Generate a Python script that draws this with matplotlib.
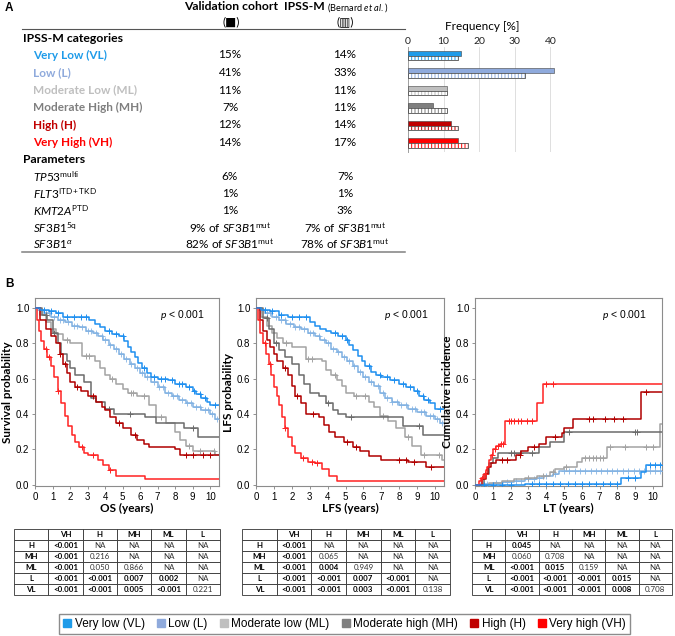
import numpy as np
import matplotlib.pyplot as plt
from matplotlib.lines import Line2D

plt.rcParams['font.family'] = ['Lato', 'DejaVu Sans']
plt.rcParams['mathtext.fontset'] = 'custom'
plt.rcParams['mathtext.rm'] = 'Lato'
plt.rcParams['mathtext.it'] = 'Lato:italic'
plt.rcParams['mathtext.bf'] = 'Lato:bold'
plt.rcParams['hatch.linewidth'] = 0.7

W, H = 675, 636

def fx(px):
    return px / W

def fy(py):
    return 1 - py / H


# ---------------- data: panel A
cat_labels = ['Very Low (VL)', 'Low (L)', 'Moderate Low (ML)', 'Moderate High (MH)', 'High (H)', 'Very High (VH)']
cat_colors = ['#1E9BE9', '#8FAADC', '#BFBFBF', '#7F7F7F', '#C00000', '#FF0000']
valid_pct = [15, 41, 11, 7, 12, 14]
ipssm_pct = [14, 33, 11, 11, 14, 17]

param_labels = [r'$\mathit{TP53}^{\mathrm{multi}}$', r'$\mathit{FLT3}^{\mathrm{ITD+TKD}}$',
                r'$\mathit{KMT2A}^{\mathrm{PTD}}$', r'$\mathit{SF3B1}^{\mathrm{5q}}$',
                r'$\mathit{SF3B1}^{\alpha}$']
param_valid = ['6%', '1%', '1%', r'9% of $\mathit{SF3B1}^{\mathrm{mut}}$', r'82% of $\mathit{SF3B1}^{\mathrm{mut}}$']
param_ipssm = ['7%', '1%', '3%', r'7% of $\mathit{SF3B1}^{\mathrm{mut}}$', r'78% of $\mathit{SF3B1}^{\mathrm{mut}}$']

# ---------------- data: panel B (step curves)
groups = ['VL', 'L', 'ML', 'MH', 'H', 'VH']
line_colors = {'VL': '#1E8FF0', 'L': '#7FB0E2', 'ML': '#A3A3A3', 'MH': '#6B6B6B', 'H': '#B00000', 'VH': '#FF2222'}

os_steps = {
    'VL': ([0, 0.3, 0.8, 1.2, 1.6, 3.1, 3.4, 3.7, 4.0, 4.4, 4.8, 5.1, 5.3, 5.5, 5.7, 5.9, 6.1, 6.4, 6.6, 7.0, 7.6, 8.0, 8.6, 9.0, 9.2, 9.5, 9.8, 10.0],
           [1.0, 0.99, 0.98, 0.97, 0.95, 0.93, 0.91, 0.89, 0.87, 0.85, 0.84, 0.81, 0.78, 0.75, 0.72, 0.69, 0.66, 0.63, 0.61, 0.60, 0.59, 0.57, 0.55, 0.53, 0.51, 0.49, 0.47, 0.45]),
    'L': ([0, 0.2, 0.5, 0.9, 1.3, 1.7, 2.1, 2.5, 2.9, 3.3, 3.6, 3.9, 4.2, 4.5, 4.8, 5.1, 5.4, 5.7, 6.0, 6.3, 6.6, 7.0, 7.4, 7.8, 8.2, 8.6, 9.0, 9.5, 10.0, 10.3],
          [1.0, 0.99, 0.97, 0.95, 0.93, 0.92, 0.90, 0.89, 0.87, 0.86, 0.84, 0.82, 0.79, 0.77, 0.74, 0.71, 0.68, 0.66, 0.63, 0.61, 0.58, 0.55, 0.52, 0.50, 0.48, 0.46, 0.44, 0.42, 0.40, 0.37]),
    'ML': ([0, 0.3, 0.6, 0.9, 1.2, 1.6, 2.0, 2.7, 3.4, 3.7, 4.0, 4.3, 4.6, 5.0, 5.3, 5.8, 6.5, 6.9, 7.5, 8.0, 8.3, 8.6, 9.0, 10.3],
           [1.0, 0.96, 0.92, 0.88, 0.85, 0.82, 0.80, 0.73, 0.70, 0.66, 0.62, 0.60, 0.57, 0.54, 0.52, 0.50, 0.45, 0.38, 0.35, 0.30, 0.25, 0.22, 0.19, 0.17]),
    'MH': ([0, 0.4, 0.7, 1.0, 1.3, 1.5, 1.8, 2.0, 2.3, 2.8, 3.2, 3.5, 4.0, 4.5, 6.3, 6.9, 8.5, 9.3],
           [1.0, 0.96, 0.93, 0.86, 0.80, 0.74, 0.70, 0.66, 0.62, 0.58, 0.49, 0.47, 0.43, 0.40, 0.38, 0.35, 0.32, 0.27]),
    'H': ([0, 0.3, 0.6, 0.9, 1.2, 1.4, 1.6, 1.8, 2.0, 2.3, 2.6, 3.0, 3.5, 3.8, 4.0, 4.3, 4.6, 5.0, 5.5, 5.8, 6.2, 6.5, 8.0, 8.3],
          [1.0, 0.93, 0.88, 0.84, 0.80, 0.74, 0.68, 0.63, 0.58, 0.55, 0.53, 0.50, 0.47, 0.44, 0.42, 0.38, 0.35, 0.32, 0.28, 0.25, 0.23, 0.21, 0.20, 0.17]),
    'VH': ([0, 0.1, 0.2, 0.35, 0.5, 0.7, 0.9, 1.1, 1.3, 1.5, 1.7, 1.9, 2.1, 2.3, 2.5, 2.8, 3.0, 3.6, 3.9, 4.2, 4.6, 6.3],
           [1.0, 0.93, 0.87, 0.81, 0.77, 0.72, 0.67, 0.61, 0.53, 0.46, 0.39, 0.33, 0.28, 0.24, 0.21, 0.18, 0.17, 0.14, 0.11, 0.08, 0.05, 0.03]),
}
os_cens = {
    'VL': [0.5, 0.9, 1.3, 1.8, 2.2, 2.6, 2.9, 4.2, 4.6, 5.0, 6.2, 6.8, 7.2, 7.4, 7.8, 8.2, 8.4, 8.8, 9.1, 9.4, 9.7, 10.3],
    'L': [0.3, 0.6, 0.8, 1.1, 1.4, 1.6, 1.9, 2.2, 2.4, 2.7, 3.0, 3.2, 3.5, 3.8, 4.0, 4.3, 4.6, 4.9, 5.2, 5.5, 5.8, 6.1, 6.4,
          6.8, 7.1, 7.3, 7.6, 7.9, 8.1, 8.4, 8.7, 8.9, 9.2, 9.4, 9.7, 9.9, 10.1, 10.4],
    'ML': [1.8, 2.9, 3.1, 4.4, 5.5, 5.6, 6.2, 7.2, 8.8, 9.4, 10.2],
    'MH': [0.6, 1.1, 4.2, 5.4, 9.0],
    'H': [1.4, 1.7, 2.4, 3.3, 4.8, 5.7, 8.6, 9.0, 9.6, 10.0],
    'VH': [0.6, 0.8, 1.3, 2.7, 3.3, 4.3],
}

lfs_steps = {
    'VL': ([0, 0.3, 0.8, 1.3, 1.8, 3.0, 3.3, 3.6, 3.9, 4.2, 4.6, 5.0, 5.2, 5.4, 5.7, 5.9, 6.1, 6.4, 6.7, 7.0, 7.5, 8.0, 8.4, 8.8, 9.1, 9.4, 9.7, 10.0],
           [1.0, 0.99, 0.98, 0.96, 0.95, 0.92, 0.90, 0.88, 0.87, 0.86, 0.84, 0.82, 0.79, 0.76, 0.73, 0.70, 0.67, 0.64, 0.62, 0.61, 0.59, 0.57, 0.55, 0.53, 0.50, 0.48, 0.46, 0.43]),
    'L': ([0, 0.2, 0.5, 0.9, 1.3, 1.7, 2.1, 2.5, 2.9, 3.3, 3.6, 3.9, 4.2, 4.5, 4.8, 5.1, 5.4, 5.7, 6.0, 6.3, 6.6, 6.9, 7.2, 7.6, 8.0, 8.5, 9.0, 9.5, 10.0, 10.3],
          [1.0, 0.99, 0.97, 0.95, 0.93, 0.91, 0.89, 0.88, 0.86, 0.84, 0.82, 0.80, 0.77, 0.75, 0.72, 0.70, 0.67, 0.64, 0.61, 0.58, 0.56, 0.52, 0.49, 0.47, 0.45, 0.43, 0.41, 0.39, 0.37, 0.35]),
    'ML': ([0, 0.3, 0.6, 0.9, 1.2, 1.5, 2.0, 2.8, 3.7, 3.9, 4.2, 4.5, 4.8, 5.0, 5.5, 6.3, 6.6, 6.9, 7.4, 7.8, 8.3, 8.7, 9.2, 10.4],
           [1.0, 0.95, 0.90, 0.86, 0.83, 0.80, 0.78, 0.71, 0.70, 0.65, 0.62, 0.59, 0.56, 0.52, 0.50, 0.47, 0.44, 0.39, 0.36, 0.32, 0.27, 0.22, 0.17, 0.14]),
    'MH': ([0, 0.4, 0.7, 1.0, 1.3, 1.6, 2.0, 2.4, 2.7, 3.0, 3.5, 3.9, 4.3, 4.6, 5.0, 8.2, 9.3],
           [1.0, 0.94, 0.88, 0.80, 0.76, 0.72, 0.68, 0.62, 0.57, 0.52, 0.50, 0.46, 0.42, 0.40, 0.38, 0.33, 0.28]),
    'H': ([0, 0.2, 0.4, 0.6, 0.8, 1.0, 1.2, 1.5, 1.8, 2.0, 2.2, 2.5, 2.8, 3.5, 3.8, 4.1, 4.4, 4.9, 5.4, 5.8, 6.3, 7.0, 8.5, 9.5],
          [1.0, 0.93, 0.87, 0.82, 0.78, 0.74, 0.70, 0.66, 0.62, 0.56, 0.50, 0.46, 0.40, 0.38, 0.34, 0.30, 0.27, 0.24, 0.21, 0.19, 0.16, 0.14, 0.13, 0.10]),
    'VH': ([0, 0.1, 0.25, 0.4, 0.55, 0.7, 0.85, 1.0, 1.15, 1.3, 1.45, 1.6, 1.8, 2.0, 2.2, 2.5, 2.9, 3.3, 3.7, 4.1, 4.5],
           [1.0, 0.93, 0.86, 0.80, 0.74, 0.68, 0.62, 0.55, 0.50, 0.45, 0.38, 0.32, 0.27, 0.22, 0.18, 0.15, 0.13, 0.12, 0.09, 0.05, 0.02]),
}
lfs_cens = {
    'VL': [0.5, 0.9, 1.4, 2.0, 2.4, 2.8, 4.4, 4.8, 5.1, 6.3, 6.9, 7.3, 7.7, 8.2, 8.6, 9.0, 9.3, 9.6, 10.3],
    'L': [0.3, 0.6, 0.8, 1.1, 1.4, 1.6, 1.9, 2.2, 2.4, 2.7, 3.0, 3.2, 3.5, 3.8, 4.0, 4.3, 4.6, 4.9, 5.2, 5.5, 5.8, 6.1, 6.4,
          6.8, 7.1, 7.3, 7.6, 7.9, 8.1, 8.4, 8.7, 8.9, 9.2, 9.4, 9.7, 9.9, 10.1, 10.4],
    'ML': [1.7, 2.9, 3.1, 4.4, 5.6, 6.1, 7.1, 8.5, 9.4, 10.2],
    'MH': [0.6, 1.1, 4.0, 5.3, 9.1],
    'H': [1.6, 2.3, 3.2, 5.1, 5.6, 8.0, 8.4, 8.8, 9.8],
    'VH': [0.5, 0.8, 1.6, 2.6, 3.1, 3.4],
}

lt_steps = {
    'VL': ([0, 2.8, 8.2, 9.3, 9.6], [0, 0.005, 0.04, 0.07, 0.11]),
    'L': ([0, 0.5, 1.0, 1.6, 2.2, 2.8, 3.4, 3.9, 4.4, 4.7], [0, 0.005, 0.01, 0.015, 0.02, 0.03, 0.04, 0.05, 0.06, 0.075]),
    'ML': ([0, 0.8, 1.5, 2.2, 2.8, 3.5, 4.2, 4.5, 5.0, 5.7, 6.0, 7.4, 10.4],
           [0, 0.01, 0.02, 0.03, 0.04, 0.05, 0.07, 0.09, 0.10, 0.13, 0.15, 0.21, 0.345]),
    'MH': ([0, 0.5, 0.8, 1.0, 1.3, 3.6, 4.2, 5.0], [0, 0.06, 0.12, 0.15, 0.18, 0.21, 0.24, 0.295]),
    'H': ([0, 0.4, 0.6, 0.75, 0.9, 1.2, 2.3, 2.6, 3.0, 3.6, 4.0, 4.9, 5.0, 5.5, 9.3],
          [0, 0.03, 0.06, 0.10, 0.12, 0.14, 0.17, 0.19, 0.21, 0.23, 0.27, 0.29, 0.32, 0.37, 0.525]),
    'VH': ([0, 0.2, 0.35, 0.5, 0.6, 0.7, 0.8, 0.9, 1.0, 1.2, 1.4, 1.7, 3.5, 3.8],
           [0, 0.02, 0.04, 0.06, 0.08, 0.10, 0.14, 0.17, 0.20, 0.22, 0.23, 0.36, 0.46, 0.57]),
}
lt_cens = {
    'VL': [0.5, 1.0, 1.5, 2.0, 3.2, 3.6, 4.0, 4.4, 4.8, 5.2, 5.6, 6.0, 6.4, 6.8, 7.2, 7.6, 8.0, 8.6, 9.0, 9.8, 10.1, 10.4],
    'L': [0.3, 0.7, 1.2, 1.8, 2.3, 2.6, 3.0, 3.3, 3.6, 4.0, 4.5, 5.0, 5.3, 5.6, 5.9, 6.2, 6.5, 6.8, 7.1, 7.4, 7.7, 8.0,
          8.3, 8.6, 8.9, 9.2, 9.5, 9.8, 10.1, 10.4],
    'ML': [3.0, 3.8, 4.4, 5.1, 6.2, 6.4, 6.6, 6.8, 7.0, 7.2, 7.6, 8.4, 9.6, 10.0],
    'MH': [2.0, 2.2, 2.5, 3.2, 5.3, 9.0, 9.1],
    'H': [1.5, 1.8, 2.5, 3.3, 4.5, 6.4, 6.6, 7.3, 7.8, 8.3, 9.6],
    'VH': [0.4, 0.55, 0.95, 1.1, 1.3, 1.45, 1.6, 1.9, 2.0, 2.2, 2.4, 2.6, 2.9, 3.2, 4.0, 4.4],
}

pval_cols = ['', 'VH', 'H', 'MH', 'ML', 'L']
pval_rows = ['H', 'MH', 'ML', 'L', 'VL']
os_p = [['<0.001', 'NA', 'NA', 'NA', 'NA'],
        ['<0.001', '0.216', 'NA', 'NA', 'NA'],
        ['<0.001', '0.050', '0.866', 'NA', 'NA'],
        ['<0.001', '<0.001', '0.007', '0.002', 'NA'],
        ['<0.001', '<0.001', '0.005', '<0.001', '0.221']]
lfs_p = [['<0.001', 'NA', 'NA', 'NA', 'NA'],
         ['<0.001', '0.065', 'NA', 'NA', 'NA'],
         ['<0.001', '0.004', '0.949', 'NA', 'NA'],
         ['<0.001', '<0.001', '0.007', '<0.001', 'NA'],
         ['<0.001', '<0.001', '0.003', '<0.001', '0.138']]
lt_p = [['0.045', 'NA', 'NA', 'NA', 'NA'],
        ['0.060', '0.708', 'NA', 'NA', 'NA'],
        ['<0.001', '0.015', '0.159', 'NA', 'NA'],
        ['<0.001', '<0.001', '<0.001', '0.015', 'NA'],
        ['<0.001', '<0.001', '<0.001', '0.008', '0.708']]

legend_labels = ['Very low (VL)', 'Low (L)', 'Moderate low (ML)', 'Moderate high (MH)', 'High (H)', 'Very high (VH)']


fig = plt.figure(figsize=(6.75, 6.36), dpi=100)

# ---------------- panel A text table
fig.text(fx(5), fy(8), 'A', fontsize=8.5, weight='bold', family='Liberation Sans', va='center')
fig.text(fx(231), fy(7), 'Validation cohort', fontsize=8.7, weight='bold', ha='center', va='center')
fig.text(fx(231), fy(22), '(■)', fontsize=8.5, ha='center', va='center')
fig.text(fx(325), fy(7), 'IPSS-M', fontsize=8.7, weight='bold', ha='right', va='center')
fig.text(fx(327), fy(7.5), r'(Bernard $\mathit{et\ al.}$)', fontsize=6.6, ha='left', va='center')
fig.text(fx(345), fy(22), '(▥)', fontsize=8.5, ha='center', va='center')
fig.add_artist(Line2D([fx(22), fx(405)], [fy(29), fy(29)], color='#555555', lw=0.8))

fig.text(fx(23), fy(38), 'IPSS-M categories', fontsize=8.8, weight='bold', va='center')
for i, lab in enumerate(cat_labels):
    yy = 55 + 17.5 * i
    fig.text(fx(33), fy(yy), lab, fontsize=8.5, weight='bold', color=cat_colors[i], va='center')
    fig.text(fx(230), fy(yy), f'{valid_pct[i]}%', fontsize=8.5, ha='center', va='center')
    fig.text(fx(345), fy(yy), f'{ipssm_pct[i]}%', fontsize=8.5, ha='center', va='center')

fig.text(fx(23), fy(160), 'Parameters', fontsize=8.8, weight='bold', va='center')
for i, lab in enumerate(param_labels):
    yy = 177 + 16.9 * i
    fig.text(fx(33), fy(yy), lab, fontsize=8.5, va='center')
    fig.text(fx(230), fy(yy), param_valid[i], fontsize=8.5, ha='center', va='center')
    fig.text(fx(345), fy(yy), param_ipssm[i], fontsize=8.5, ha='center', va='center')
fig.add_artist(Line2D([fx(22), fx(405)], [fy(252), fy(252)], color='#808080', lw=1.1))

# frequency bars
axf = fig.add_axes([fx(408), fy(152), fx(153), (152 - 47) / H])
ypos = np.arange(len(cat_labels))
axf.barh(ypos - 0.14, valid_pct, height=0.28, color=cat_colors, edgecolor='#404040', linewidth=0.4, zorder=3)
axf.barh(ypos + 0.14, ipssm_pct, height=0.26, color='white', edgecolor=cat_colors, hatch='|||||', linewidth=0, zorder=3)
axf.barh(ypos + 0.14, ipssm_pct, height=0.26, fill=False, edgecolor='#505050', linewidth=0.6, zorder=4)
axf.set_xlim(0, 43)
axf.set_ylim(5.5, -0.5)
axf.set_xticks([0, 10, 20, 30, 40])
axf.xaxis.tick_top()
axf.tick_params(axis='x', length=0, pad=1, labelsize=7.5, colors='#222222')
axf.set_yticks([])
axf.grid(axis='x', color='#D9D9D9', lw=0.6, zorder=0)
for sp in ['top', 'right', 'bottom']:
    axf.spines[sp].set_visible(False)
axf.spines['left'].set_color('#A0A0A0')
axf.spines['left'].set_linewidth(0.7)
fig.text(fx(482), fy(26), 'Frequency [%]', fontsize=8.5, ha='center', va='center')

# ---------------- panel B
fig.text(fx(5), fy(284), 'B', fontsize=8.5, weight='bold', family='Liberation Sans', va='center')


def step_value(tt, ss, x):
    idx = np.searchsorted(tt, x, side='right') - 1
    return np.asarray(ss)[idx]


def km_panel(rect, steps, cens, ylabel, xlabel):
    ax = fig.add_axes(rect)
    order = ['L', 'ML', 'MH', 'H', 'VH', 'VL']
    for g in order:
        tt, ss = steps[g]
        xs = list(tt) + [10.5]
        ys = list(ss) + [ss[-1]]
        ax.step(xs, ys, where='post', color=line_colors[g], lw=1.1, zorder=3)
        ct = np.array(cens[g])
        ax.plot(ct, step_value(tt, ss, ct), '+', color=line_colors[g], ms=4.5, mew=0.7, zorder=3,
                alpha=0.8 if g == 'L' else 1)
    ax.set_xlim(0, 10.5)
    ax.set_ylim(-0.008, 1.056)
    ax.set_xticks(range(11))
    ax.set_yticks([0, 0.2, 0.4, 0.6, 0.8, 1.0])
    ax.set_yticklabels(['0.0', '0.2', '0.4', '0.6', '0.8', '1.0'])
    ax.tick_params(labelsize=7, length=2.5, width=0.6, color='#808080', pad=1.5)
    for lab in ax.get_xticklabels() + ax.get_yticklabels():
        lab.set_fontfamily('Liberation Sans')
    for sp in ax.spines.values():
        sp.set_color('#8C8C8C')
        sp.set_linewidth(0.8)
    ax.set_ylabel(ylabel, fontsize=8.5, weight='bold', labelpad=2)
    ax.set_xlabel(xlabel, fontsize=8.5, weight='bold', labelpad=1)
    ax.text(0.80, 0.91, r'$p$ < 0.001', transform=ax.transAxes, fontsize=7.5, ha='center', va='center',
            family='Liberation Sans')
    return ax


km_panel([fx(35), fy(486), fx(184), 188 / H], os_steps, os_cens, 'Survival probability', 'OS (years)')
km_panel([fx(256), fy(486), fx(188), 188 / H], lfs_steps, lfs_cens, 'LFS probability', 'LFS (years)')
km_panel([fx(475), fy(486), fx(187), 188 / H], lt_steps, lt_cens, 'Cumulative incidence', 'LT (years)')


def is_sig(s):
    if s.startswith('<'):
        return True
    if s == 'NA':
        return False
    return float(s) < 0.05


def pval_table(rect, pvals):
    ax = fig.add_axes(rect)
    ax.axis('off')
    cells = [pval_cols] + [[r] + row for r, row in zip(pval_rows, pvals)]
    tab = ax.table(cellText=cells, bbox=[0, 0, 1, 1], cellLoc='center')
    tab.auto_set_font_size(False)
    for (r, c), cell in tab.get_celld().items():
        cell.set_linewidth(0.6)
        cell.set_edgecolor('#333333')
        txt = cell.get_text()
        txt.set_fontsize(5.7)
        if r == 0 or c == 0 or is_sig(txt.get_text()):
            txt.set_fontweight('bold')
        else:
            txt.set_color('#333333')


pval_table([fx(14), fy(595), fx(206), 66 / H], os_p)
pval_table([fx(242), fy(595), fx(208), 66 / H], lfs_p)
pval_table([fx(472), fy(595), fx(200), 66 / H], lt_p)

handles = [Line2D([], [], marker='s', linestyle='none', color=c, markersize=5.5) for c in cat_colors]
fig.legend(handles, legend_labels, loc='center', bbox_to_anchor=(fx(344.5), fy(624)), ncol=6,
           frameon=True, fancybox=False, edgecolor='#707070', handlelength=0.7, handletextpad=0.3,
           columnspacing=1.0, borderpad=0.35, prop={'family': 'Liberation Sans', 'size': 8.5})

fig.savefig('out.png', dpi=100)
